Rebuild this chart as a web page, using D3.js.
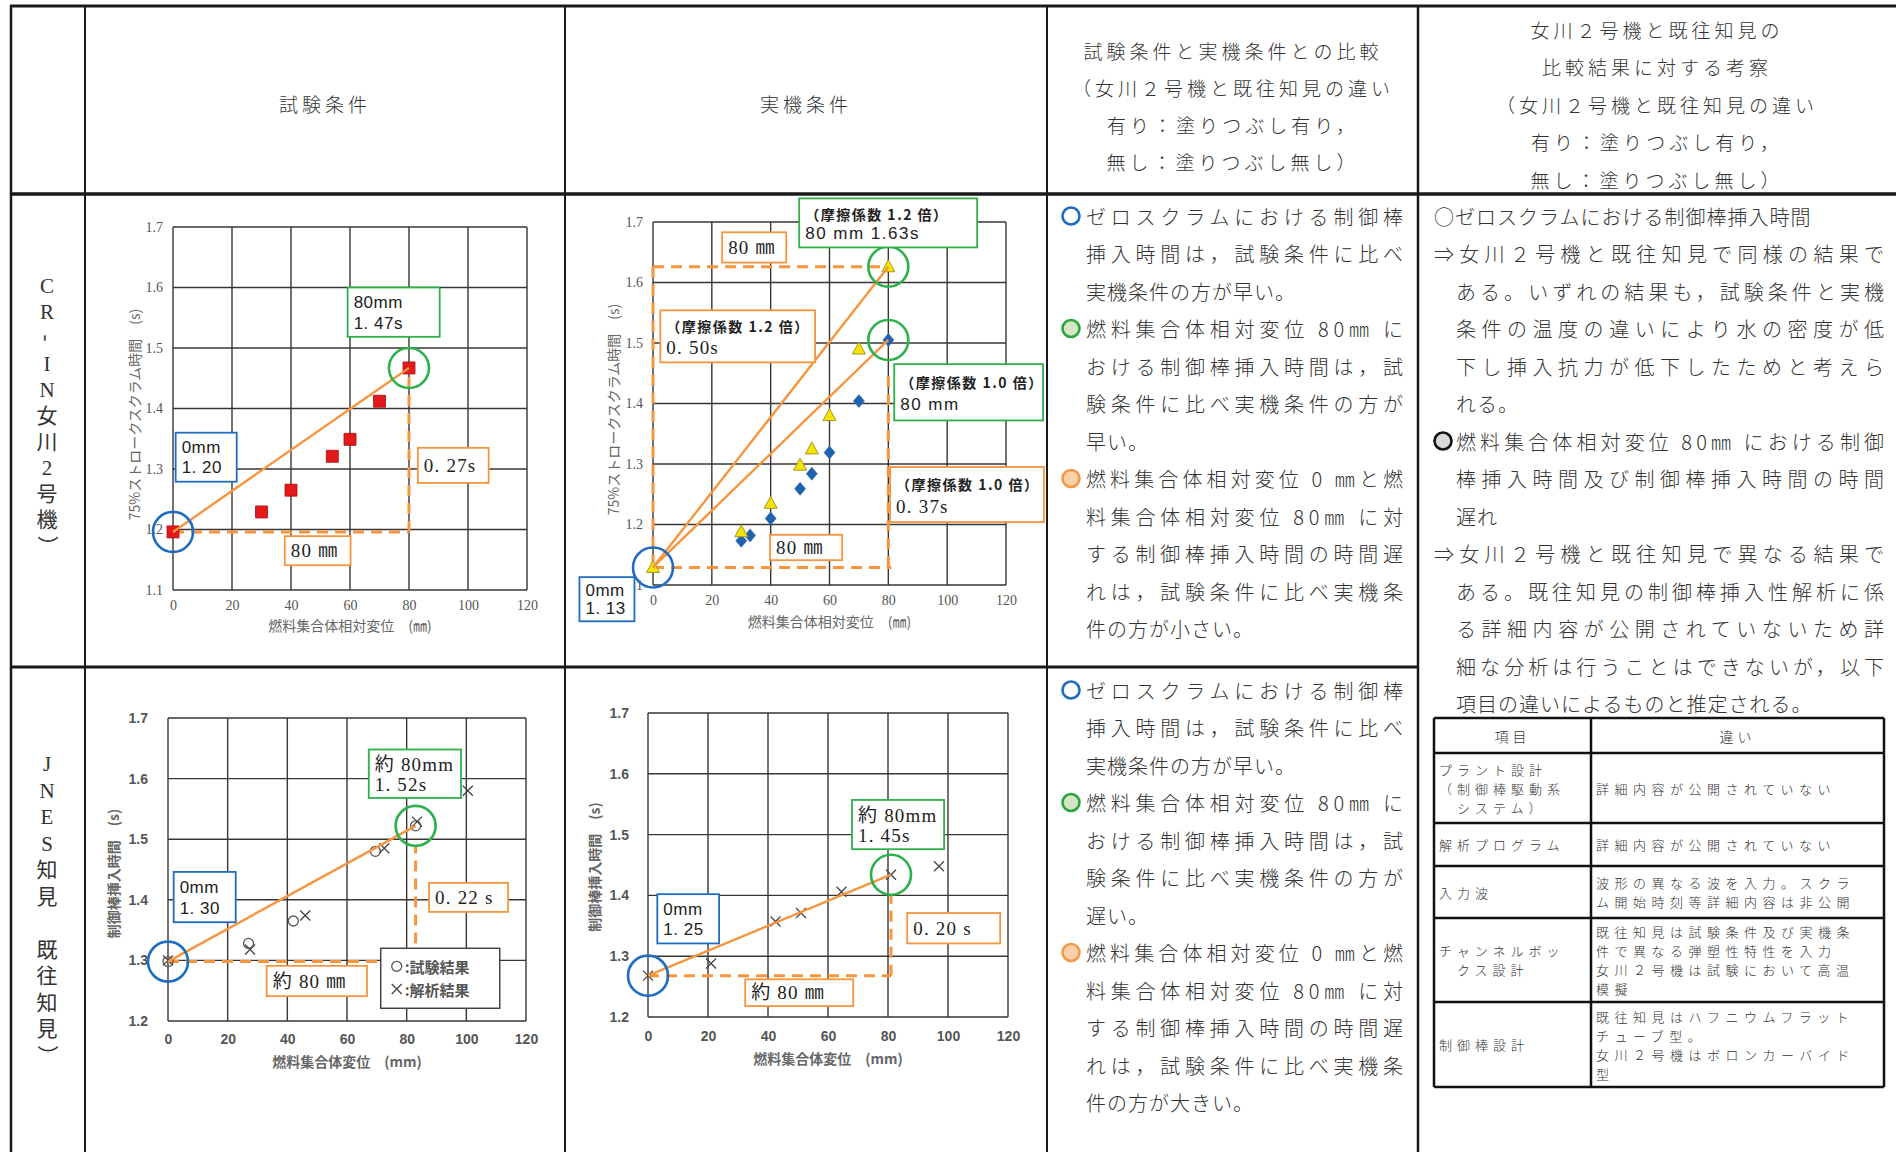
<!DOCTYPE html>
<html>
<head>
<meta charset="utf-8">
<title>制御棒挿入性の比較</title>
<script src="https://d3js.org/d3.v7.min.js"></script>
<style>
  body { margin: 0; background: #fff; }
  svg { display: block; }
</style>
</head>
<body>
<svg id="page"></svg>
<script>
// ---- values ----
const xTicks = [0, 20, 40, 60, 80, 100, 120];
const yTicksOnagawa = [1.1, 1.2, 1.3, 1.4, 1.5, 1.6, 1.7];
const yTicksJnes = [1.2, 1.3, 1.4, 1.5, 1.6, 1.7];

// 女川2号機 試験条件 (red squares)
const onaTestX = [0, 30, 40, 54, 60, 70, 80];
const onaTestY = [1.196, 1.229, 1.265, 1.321, 1.349, 1.412, 1.467];

// 女川2号機 実機条件: 摩擦係数1.2倍 (triangles), 1.0倍 (diamonds)
const onaPlant12X = [0, 30, 40, 50, 54, 60, 70, 80];
const onaPlant12Y = [1.129, 1.188, 1.235, 1.298, 1.325, 1.380, 1.490, 1.626];
const onaPlant10X = [30, 33, 40, 50, 54, 60, 70, 80];
const onaPlant10Y = [1.173, 1.182, 1.210, 1.259, 1.284, 1.319, 1.404, 1.505];

// JNES 試験条件: 試験結果 (circles), 解析結果 (crosses)
const jnesTestX = [0, 27, 42, 69.5, 83];
const jnesTestY = [1.298, 1.328, 1.365, 1.480, 1.522];
const jnesCalcX = [0, 27.5, 46, 72.5, 83.5, 100.5];
const jnesCalcY = [1.300, 1.318, 1.374, 1.485, 1.529, 1.580];

// JNES 実機条件 (crosses)
const jnesPlantX = [0, 21, 42.5, 51, 64.5, 81, 97];
const jnesPlantY = [1.268, 1.288, 1.357, 1.371, 1.406, 1.434, 1.448];

// ---- table texts ----
const headerCompare = ["試験条件と実機条件との比較", "（女川２号機と既往知見の違い", "有り：塗りつぶし有り，", "無し：塗りつぶし無し）"];
const headerDiscuss = ["女川２号機と既往知見の", "比較結果に対する考察", "（女川２号機と既往知見の違い", "有り：塗りつぶし有り，", "無し：塗りつぶし無し）"];

const compareOnagawa = [
  { mark: "blue", lines: ["ゼロスクラムにおける制御棒", "挿入時間は，試験条件に比べ", "実機条件の方が早い。"] },
  { mark: "green", lines: ["燃料集合体相対変位 80㎜ に", "おける制御棒挿入時間は，試", "験条件に比べ実機条件の方が", "早い。"] },
  { mark: "orange", lines: ["燃料集合体相対変位 0 ㎜と燃", "料集合体相対変位 80㎜ に対", "する制御棒挿入時間の時間遅", "れは，試験条件に比べ実機条", "件の方が小さい。"] }
];
const compareJnes = [
  { mark: "blue", lines: ["ゼロスクラムにおける制御棒", "挿入時間は，試験条件に比べ", "実機条件の方が早い。"] },
  { mark: "green", lines: ["燃料集合体相対変位 80㎜ に", "おける制御棒挿入時間は，試", "験条件に比べ実機条件の方が", "遅い。"] },
  { mark: "orange", lines: ["燃料集合体相対変位 0 ㎜と燃", "料集合体相対変位 80㎜ に対", "する制御棒挿入時間の時間遅", "れは，試験条件に比べ実機条", "件の方が大きい。"] }
];
const discussion = [
  { lines: ["○ゼロスクラムにおける制御棒挿入時間"] },
  { lines: ["⇒女川２号機と既往知見で同様の結果で", "ある。いずれの結果も，試験条件と実機", "条件の温度の違いにより水の密度が低", "下し挿入抗力が低下したためと考えら", "れる。"] },
  { mark: "gray", lines: ["燃料集合体相対変位 80㎜ における制御", "棒挿入時間及び制御棒挿入時間の時間", "遅れ"] },
  { lines: ["⇒女川２号機と既往知見で異なる結果で", "ある。既往知見の制御棒挿入性解析に係", "る詳細内容が公開されていないため詳", "細な分析は行うことはできないが，以下", "項目の違いによるものと推定される。"] }
];
const diffItems = [
  ["プラント設計", "（制御棒駆動系", "　システム）"],
  ["解析プログラム"],
  ["入力波"],
  ["チャンネルボッ", "　クス設計"],
  ["制御棒設計"]
];
const diffTexts = [
  ["詳細内容が公開されていない"],
  ["詳細内容が公開されていない"],
  ["波形の異なる波を入力。スクラ", "ム開始時刻等詳細内容は非公開"],
  ["既往知見は試験条件及び実機条", "件で異なる弾塑性特性を入力", "女川２号機は試験において高温", "模擬"],
  ["既往知見はハフニウムフラット", "チューブ型。", "女川２号機はボロンカーバイド", "型"]
];

// ---- page ----
const W = 1896, H = 1152;
const JP = "'Noto Sans CJK JP', sans-serif";
const SERIF = "'Liberation Serif', 'DejaVu Serif', 'Noto Sans CJK JP', serif";
const SANS = "'Liberation Sans', Arial, 'Noto Sans CJK JP', sans-serif";
const BLUE = "#1f6cc0", GREEN = "#2eb04a", ORANGE = "#f7953f", GRID = "#3a3434", INK = "#333";

const svg = d3.select("#page").attr("width", W).attr("height", H);
svg.append("rect").attr("width", W).attr("height", H).attr("fill", "#fff");

const pts = (xs, ys) => xs.map((v, i) => [v, ys[i]]);
const first = a => a[0], last = a => a[a.length - 1];

// label styles used inside the annotation boxes
const boxFonts = {
  num: { f: SANS, s: 17, ls: 0.5, w: 400 },
  num2: { f: SANS, s: 17, ls: 1.5, w: 400 },
  ser: { f: SERIF, s: 19, ls: 1.2, w: 400 },
  fric: { f: JP, s: 14, ls: 1.5, w: 700 }
};

const shapes = {
  square: { d: "M-6,-6H6V6H-6Z", fill: "#e3191c", stroke: "#a31212", sw: 0.8 },
  triangle: { d: "M0,-7L6.5,5H-6.5Z", fill: "#f4e400", stroke: "#a8962a", sw: 1 },
  diamond: { d: "M0,-6.5L5.5,0L0,6.5L-5.5,0Z", fill: "#1e61ad", stroke: "#2a6cb5", sw: 0.6 },
  ring: { d: "M5,0A5,5 0 1,1 -5,0A5,5 0 1,1 5,0", fill: "none", stroke: "#555", sw: 1.3 },
  cross: { d: "M-5,-5L5,5M-5,5L5,-5", fill: "none", stroke: "#444", sw: 1.3 }
};

function drawMarks(g, list, shape, x, y) {
  const s = shapes[shape];
  g.append("g").selectAll("path").data(list).join("path")
    .attr("transform", d => `translate(${x(d[0])},${y(d[1])})`)
    .attr("d", s.d).attr("fill", s.fill).attr("stroke", s.stroke).attr("stroke-width", s.sw);
}

function drawChart(spec) {
  const b = spec.frame;
  const g = svg.append("g");
  const x = d3.scaleLinear().domain([0, 120]).range([b.left, b.right]);
  const y = d3.scaleLinear().domain(spec.yDomain).range([b.bottom, b.top]);

  // grid
  g.append("g").selectAll("line").data(xTicks).join("line")
    .attr("x1", d => x(d)).attr("x2", d => x(d)).attr("y1", b.top).attr("y2", b.bottom)
    .attr("stroke", GRID).attr("stroke-width", 1.4);
  g.append("g").selectAll("line").data(spec.yTicks).join("line")
    .attr("y1", d => y(d)).attr("y2", d => y(d)).attr("x1", b.left).attr("x2", b.right)
    .attr("stroke", GRID).attr("stroke-width", 1.4);

  // axes
  const ax = g.append("g").attr("transform", `translate(0,${b.bottom})`)
    .call(d3.axisBottom(x).tickValues(xTicks).tickSize(0).tickPadding(spec.xPad));
  const ay = g.append("g").attr("transform", `translate(${b.left},0)`)
    .call(d3.axisLeft(y).tickValues(spec.yTicks).tickSize(0).tickPadding(spec.yPad).tickFormat(d3.format(".1f")));
  [ax, ay].forEach(a => {
    a.select(".domain").remove();
    a.selectAll("text").attr("font-family", spec.tickFont).attr("font-size", 14)
      .attr("font-weight", spec.tickWeight).attr("fill", "#555");
  });

  // axis titles
  g.append("text").attr("x", (b.left + b.right) / 2).attr("y", b.bottom + spec.xTitleOff)
    .attr("text-anchor", "middle").attr("dominant-baseline", "central")
    .attr("font-family", JP).attr("font-size", 14).attr("font-weight", spec.tickWeight)
    .attr("fill", "#666").text(spec.xTitle);
  g.append("text")
    .attr("transform", `translate(${b.left - spec.yTitleOff},${(b.top + b.bottom) / 2 + spec.yTitleShift}) rotate(-90)`)
    .attr("text-anchor", "middle").attr("dominant-baseline", "central")
    .attr("font-family", JP).attr("font-size", 14).attr("font-weight", spec.tickWeight)
    .attr("fill", "#666").text(spec.yTitle);

  // dashed guides
  spec.dashes.forEach(([p, q]) => {
    g.append("line").attr("x1", x(p[0])).attr("y1", y(p[1])).attr("x2", x(q[0])).attr("y2", y(q[1]))
      .attr("stroke", ORANGE).attr("stroke-width", 3).attr("stroke-dasharray", "11,7");
  });

  // data
  spec.series.forEach(s => drawMarks(g, s.pts, s.shape, x, y));

  // trend lines
  spec.lines.forEach(([p, q]) => {
    g.append("line").attr("x1", x(p[0])).attr("y1", y(p[1])).attr("x2", x(q[0])).attr("y2", y(q[1]))
      .attr("stroke", ORANGE).attr("stroke-width", 2.4);
  });

  // highlight circles
  spec.circles.forEach(c => {
    g.append("circle").attr("cx", x(c.p[0])).attr("cy", y(c.p[1])).attr("r", 20)
      .attr("fill", "none").attr("stroke", c.color).attr("stroke-width", 2.6);
  });

  // legend (JNES test chart only)
  if (spec.legend) {
    const L = spec.legend;
    const x0 = x(L.x[0]), x1 = x(L.x[1]), y0 = y(L.y[0]), y1 = y(L.y[1]);
    g.append("rect").attr("x", x0).attr("y", y0).attr("width", x1 - x0).attr("height", y1 - y0)
      .attr("fill", "#fff").attr("stroke", "#444").attr("stroke-width", 1.5);
    L.items.forEach((it, i) => {
      const cy = y0 + (y1 - y0) * (i === 0 ? 0.3 : 0.68);
      drawMarks(g, [[0, 0]], it.shape, () => x0 + 16, () => cy);
      g.append("text").attr("x", x0 + 24).attr("y", cy).attr("dominant-baseline", "central")
        .attr("font-family", JP).attr("font-size", 15).attr("font-weight", 700).attr("fill", "#555")
        .text(it.label);
    });
  }

  // annotation boxes
  spec.boxes.forEach(bx => {
    const x0 = x(bx.x[0]), x1 = x(bx.x[1]), y0 = y(bx.y[0]), y1 = y(bx.y[1]);
    g.append("rect").attr("x", x0).attr("y", y0).attr("width", x1 - x0).attr("height", y1 - y0)
      .attr("fill", "#fff").attr("stroke", bx.c).attr("stroke-width", 1.8);
    bx.lines.forEach(([t, f], i) => {
      const st = boxFonts[f];
      const cy = bx.lines.length === 1 ? (y0 + y1) / 2 : y0 + (y1 - y0) * (i === 0 ? 0.31 : 0.72);
      g.append("text").attr("x", x0 + 6).attr("y", cy).attr("dominant-baseline", "central")
        .attr("font-family", st.f).attr("font-size", st.s).attr("font-weight", st.w)
        .style("letter-spacing", st.ls + "px").attr("fill", "#222").text(t);
    });
  });
}

// ---- chart 1: 女川2号機 試験条件 ----
const ona = pts(onaTestX, onaTestY);
drawChart({
  frame: { left: 173, right: 527, top: 227, bottom: 590 },
  yDomain: [1.1, 1.7], yTicks: yTicksOnagawa,
  tickFont: SERIF, tickWeight: 400, xPad: 10, yPad: 10,
  xTitleOff: 35, yTitleOff: 39, yTitleShift: 6,
  xTitle: "燃料集合体相対変位　(㎜)", yTitle: "75%ストロークスクラム時間　(s)",
  series: [{ pts: ona, shape: "square" }],
  dashes: [[first(ona), [last(ona)[0], first(ona)[1]]], [[last(ona)[0], first(ona)[1]], last(ona)]],
  lines: [[first(ona), last(ona)]],
  circles: [{ p: first(ona), color: BLUE }, { p: last(ona), color: GREEN }],
  boxes: [
    { x: [59.2, 90.4], y: [1.600, 1.5185], c: GREEN, lines: [["80mm", "num"], ["1. 47s", "num"]] },
    { x: [0.9, 21.6], y: [1.360, 1.279], c: BLUE, lines: [["0mm", "num"], ["1. 20", "num"]] },
    { x: [83, 107], y: [1.335, 1.277], c: ORANGE, lines: [["0. 27s", "ser"]] },
    { x: [37.9, 60.2], y: [1.189, 1.141], c: ORANGE, lines: [["80 ㎜", "ser"]] }
  ]
});

// ---- chart 2: 女川2号機 実機条件 ----
const tri = pts(onaPlant12X, onaPlant12Y), dia = pts(onaPlant10X, onaPlant10Y);
const t0 = first(tri), t1 = last(tri), d1 = last(dia);
drawChart({
  frame: { left: 653, right: 1006, top: 222, bottom: 585 },
  yDomain: [1.1, 1.7], yTicks: yTicksOnagawa,
  tickFont: SERIF, tickWeight: 400, xPad: 10, yPad: 10,
  xTitleOff: 36, yTitleOff: 40, yTitleShift: 6,
  xTitle: "燃料集合体相対変位　(㎜)", yTitle: "75%ストロークスクラム時間　(s)",
  series: [{ pts: dia, shape: "diamond" }, { pts: tri, shape: "triangle" }],
  dashes: [
    [[0, t1[1]], [t1[0], t1[1]]],
    [[0, t1[1]], [0, t0[1]]],
    [[0, t0[1]], [t1[0] + 1, t0[1]]],
    [[d1[0], d1[1] - 0.06], [d1[0], t0[1]]]
  ],
  lines: [[t0, t1], [t0, d1]],
  circles: [{ p: t0, color: BLUE }, { p: t1, color: GREEN }, { p: d1, color: GREEN }],
  boxes: [
    { x: [49.7, 110.2], y: [1.739, 1.658], c: GREEN, lines: [["（摩擦係数 1.2 倍）", "fric"], ["80 mm  1.63s", "num2"]] },
    { x: [23.5, 45.3], y: [1.683, 1.633], c: ORANGE, lines: [["80 ㎜", "ser"]] },
    { x: [2.5, 55.1], y: [1.554, 1.468], c: ORANGE, lines: [["（摩擦係数 1.2 倍）", "fric"], ["0. 50s", "ser"]] },
    { x: [82.0, 132.6], y: [1.465, 1.372], c: GREEN, lines: [["（摩擦係数 1.0 倍）", "fric"], ["80 mm", "num2"]] },
    { x: [80.6, 132.9], y: [1.295, 1.204], c: ORANGE, lines: [["（摩擦係数 1.0 倍）", "fric"], ["0. 37s", "ser"]] },
    { x: [39.8, 64.3], y: [1.183, 1.141], c: ORANGE, lines: [["80 ㎜", "ser"]] },
    { x: [-25, -6.3], y: [1.113, 1.04], c: BLUE, lines: [["0mm", "num"], ["1. 13", "num"]] }
  ]
});

// ---- chart 3: JNES 試験条件 ----
const jt = pts(jnesTestX, jnesTestY), jc = pts(jnesCalcX, jnesCalcY);
drawChart({
  frame: { left: 168, right: 526, top: 718, bottom: 1021 },
  yDomain: [1.2, 1.7], yTicks: yTicksJnes,
  tickFont: SANS, tickWeight: 700, xPad: 13, yPad: 20,
  xTitleOff: 40, yTitleOff: 55, yTitleShift: 4,
  xTitle: "燃料集合体変位　(mm)", yTitle: "制御棒挿入時間　(s)",
  series: [{ pts: jt, shape: "ring" }, { pts: jc, shape: "cross" }],
  dashes: [[first(jt), [last(jt)[0], first(jt)[1]]], [[last(jt)[0], first(jt)[1]], [last(jt)[0], last(jt)[1] - 0.033]]],
  lines: [[first(jt), last(jt)]],
  circles: [{ p: first(jt), color: BLUE }, { p: last(jt), color: GREEN }],
  legend: { x: [71.3, 111.2], y: [1.32, 1.221], items: [{ shape: "ring", label: ":試験結果" }, { shape: "cross", label: ":解析結果" }] },
  boxes: [
    { x: [67.3, 98.2], y: [1.648, 1.568], c: GREEN, lines: [["約 80mm", "ser"], ["1. 52s", "ser"]] },
    { x: [1.9, 22.7], y: [1.446, 1.363], c: BLUE, lines: [["0mm", "num"], ["1. 30", "num"]] },
    { x: [87.5, 114], y: [1.428, 1.380], c: ORANGE, lines: [["0. 22 s", "ser"]] },
    { x: [33.1, 66.7], y: [1.291, 1.241], c: ORANGE, lines: [["約 80 ㎜", "ser"]] }
  ]
});

// ---- chart 4: JNES 実機条件 ----
const jp = pts(jnesPlantX, jnesPlantY);
const jpEnd = jp[5];
drawChart({
  frame: { left: 648, right: 1008, top: 713, bottom: 1017 },
  yDomain: [1.2, 1.7], yTicks: yTicksJnes,
  tickFont: SANS, tickWeight: 700, xPad: 14, yPad: 19,
  xTitleOff: 41, yTitleOff: 54, yTitleShift: 2,
  xTitle: "燃料集合体変位　(mm)", yTitle: "制御棒挿入時間　(s)",
  series: [{ pts: jp, shape: "cross" }],
  dashes: [[first(jp), [jpEnd[0], first(jp)[1]]], [[jpEnd[0], first(jp)[1]], [jpEnd[0], jpEnd[1] - 0.033]]],
  lines: [[first(jp), jpEnd]],
  circles: [{ p: first(jp), color: BLUE }, { p: jpEnd, color: GREEN }],
  boxes: [
    { x: [68.0, 98.7], y: [1.557, 1.476], c: GREEN, lines: [["約 80mm", "ser"], ["1. 45s", "ser"]] },
    { x: [3.1, 23.7], y: [1.402, 1.321], c: BLUE, lines: [["0mm", "num"], ["1. 25", "num"]] },
    { x: [86.4, 117.4], y: [1.371, 1.321], c: ORANGE, lines: [["0. 20 s", "ser"]] },
    { x: [32.4, 68.4], y: [1.262, 1.218], c: ORANGE, lines: [["約 80 ㎜", "ser"]] }
  ]
});

// ---- table frame ----
const frame = svg.append("g").attr("stroke", "#1a1a1a");
frame.append("line").attr("x1", 10).attr("x2", W).attr("y1", 6).attr("y2", 6).attr("stroke-width", 3);
frame.append("line").attr("x1", 10).attr("x2", W).attr("y1", 194).attr("y2", 194).attr("stroke-width", 3.5);
frame.append("line").attr("x1", 10).attr("x2", 1418).attr("y1", 667).attr("y2", 667).attr("stroke-width", 3);
[[11, 2.5], [85, 2], [565, 2], [1047, 2], [1418, 2.5]].forEach(([cx, sw]) => {
  frame.append("line").attr("x1", cx).attr("x2", cx).attr("y1", 5).attr("y2", H).attr("stroke-width", sw);
});

function txt(str, x, y, size, opts = {}) {
  const t = svg.append("text").attr("x", x).attr("y", y).attr("dominant-baseline", "central")
    .attr("font-family", opts.font || JP).attr("font-size", size).attr("font-weight", opts.weight || 300)
    .attr("fill", opts.fill || INK).attr("text-anchor", opts.anchor || "start")
    .style("letter-spacing", (opts.ls || 0) + "px").text(str);
  if (opts.justify) {
    t.style("letter-spacing", null).attr("textLength", opts.justify - x).attr("lengthAdjust", "spacing");
  }
  return t;
}

// header row
txt("試験条件", 325, 103, 19, { anchor: "middle", ls: 4 });
txt("実機条件", 806, 103, 19, { anchor: "middle", ls: 4 });
headerCompare.forEach((s, i) => txt(s, 1233, 50 + i * 37, 19, { anchor: "middle", ls: 4 }));
headerDiscuss.forEach((s, i) => txt(s, 1657, 29 + i * 37.5, 19, { anchor: "middle", ls: 4 }));

// row labels (vertical)
function vertical(str, cy0, step) {
  Array.from(str).forEach((ch, i) => {
    const t = txt(ch, 47, cy0 + i * step, 21, { anchor: "middle", font: SERIF, weight: 400 });
    if (ch === "-" || ch === "）") t.attr("transform", `rotate(90,47,${cy0 + i * step})`);
  });
}
vertical("CR-IN女川2号機）", 286, 26);
vertical("JNES知見　既往知見）", 764, 26.5);

// comparison / discussion paragraphs
const markColors = {
  blue: ["#fff", BLUE], green: ["#d4e6c4", "#2ba640"], orange: ["#fbd0ab", "#f5994a"], gray: ["#d9d9d9", "#111"]
};
function paragraphs(list, startY, step, firstX, indentX, right, markX) {
  let row = 0;
  list.forEach(p => {
    p.lines.forEach((s, i) => {
      const cy = startY + row * step;
      const lead = s.startsWith("⇒") || s.startsWith("○");
      const x0 = lead ? firstX : indentX;
      const full = i < p.lines.length - 1;
      txt(s, x0, cy, 20, { ls: 1, justify: full ? right : null });
      if (i === 0 && p.mark) {
        const [f, st] = markColors[p.mark];
        svg.append("circle").attr("cx", markX).attr("cy", cy).attr("r", 8.5)
          .attr("fill", f).attr("stroke", st).attr("stroke-width", 2.6);
      }
      row++;
    });
  });
}
paragraphs(compareOnagawa, 216, 37.5, 1086, 1086, 1403, 1071);
paragraphs(compareJnes, 690, 37.5, 1086, 1086, 1403, 1071);
paragraphs(discussion, 216, 37.5, 1434, 1456, 1884, 1443);

// small comparison table
const rowsY = [718, 753, 823, 866, 918, 1002, 1087];
const tcol = [1434, 1591, 1884];
const tg = svg.append("g").attr("stroke", "#111").attr("stroke-width", 2.5);
rowsY.forEach(ry => tg.append("line").attr("x1", tcol[0]).attr("x2", tcol[2]).attr("y1", ry).attr("y2", ry));
tcol.forEach(cx => tg.append("line").attr("x1", cx).attr("x2", cx).attr("y1", rowsY[0]).attr("y2", last(rowsY)));
txt("項目", (tcol[0] + tcol[1]) / 2, 736, 14, { anchor: "middle", ls: 4 });
txt("違い", (tcol[1] + tcol[2]) / 2, 736, 14, { anchor: "middle", ls: 4 });
const lead = 19;
diffItems.forEach((lines, r) => {
  const mid = (rowsY[r + 1] + rowsY[r + 2]) / 2;
  lines.forEach((s, i) => txt(s, tcol[0] + 5, mid + (i - (lines.length - 1) / 2) * lead, 13, { ls: 5 }));
  const rt = diffTexts[r];
  rt.forEach((s, i) => txt(s, tcol[1] + 5, mid + (i - (rt.length - 1) / 2) * lead, 13, { ls: 5.5 }));
});
</script>
</body>
</html>
